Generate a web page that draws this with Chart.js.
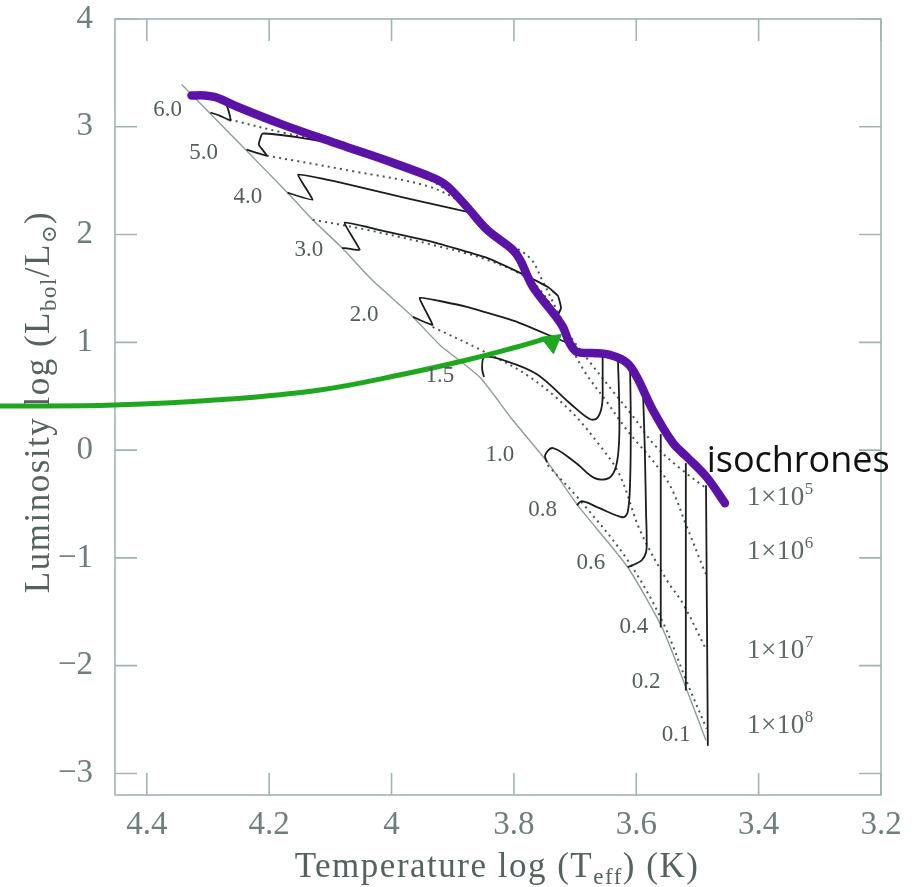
<!DOCTYPE html>
<html>
<head>
<meta charset="utf-8">
<title>Pre-main-sequence tracks</title>
<script src="https://cdn.jsdelivr.net/npm/chart.js@4.4.1/dist/chart.umd.min.js"></script>
<style>
  html, body { margin: 0; padding: 0; background: #fff; }
</style>
</head>
<body>
<canvas id="myChart" width="923" height="887"></canvas>
<script>
// axis ticks (log Teff runs backwards)
const xTicks = [4.4, 4.2, 4.0, 3.8, 3.6, 3.4, 3.2];
const yTicks = [-3, -2, -1, 0, 1, 2, 3, 4];

// zero age main sequence, [log Teff, log L]
const zams = [[4.343,3.392],[4.242,2.807],[4.170,2.388],[4.129,2.138],[4.081,1.877],[4.032,1.580],[3.965,1.236],[3.921,0.976],[3.856,0.678],[3.802,0.279],[3.745,-0.112],[3.696,-0.511],[3.614,-1.087],[3.558,-1.645],[3.517,-2.230],[3.486,-2.695]];

// evolutionary tracks, one per mass
const massNames = ['6.0', '5.0', '4.0', '3.0', '2.0', '1.5', '1.0', '0.8', '0.6', '0.4', '0.2', '0.1'];
const track60 = [[4.271,3.225],[4.266,3.141],[4.263,3.058],[4.281,3.104],[4.296,3.132]];
const track50 = [[4.081,2.835],[4.150,2.900],[4.211,2.937],[4.217,2.835],[4.204,2.732],[4.237,2.788]];
const track40 = [[3.872,2.205],[3.938,2.289],[4.014,2.388],[4.090,2.491],[4.153,2.556],[4.129,2.323],[4.170,2.388]];
const track30 = [[3.730,1.228],[3.723,1.320],[3.728,1.431],[3.745,1.515],[3.790,1.645],[3.844,1.784],[3.933,1.933],[4.014,2.035],[4.077,2.110],[4.052,1.859],[4.081,1.877]];
const track20 = [[3.712,0.994],[3.736,1.050],[3.795,1.190],[3.877,1.329],[3.954,1.413],[3.933,1.162],[3.965,1.236]];
const track15 = [[3.655,0.892],[3.655,0.651],[3.656,0.418],[3.664,0.297],[3.676,0.288],[3.709,0.437],[3.763,0.706],[3.818,0.836],[3.848,0.864],[3.852,0.762],[3.849,0.678]];
const track10 = [[3.630,0.836],[3.628,0.465],[3.628,0.093],[3.633,-0.149],[3.645,-0.260],[3.668,-0.260],[3.700,-0.112],[3.736,0.019],[3.749,-0.046],[3.746,-0.112]];
const track08 = [[3.610,0.725],[3.609,0.279],[3.610,-0.279],[3.614,-0.576],[3.622,-0.623],[3.660,-0.539],[3.689,-0.474],[3.697,-0.511]];
const track06 = [[3.589,0.539],[3.586,0],[3.584,-0.586],[3.583,-0.809],[3.584,-0.948],[3.591,-1.022],[3.599,-1.050],[3.614,-1.087]];
const track04 = [[3.560,0.149],[3.560,-1.645]];
const track02 = [[3.519,-0.121],[3.519,-2.230]];
const track01 = [[3.486,-0.325],[3.483,-2.742]];

// isochrones
const isoNames = ['5', '6', '7', '8'];
const iso5 = [[4.265,3.067],[4.178,2.946],[4.085,2.825],[4.003,2.658],[3.921,2.454],[3.864,2.193],[3.823,1.970],[3.774,1.784],[3.754,1.580],[3.730,1.301],[3.709,1.069],[3.676,0.818],[3.640,0.558],[3.607,0.325],[3.570,0.046],[3.529,-0.167],[3.486,-0.353]];
const iso5b = [[4.204,2.732],[4.068,2.593],[3.938,2.444],[3.872,2.258]];
const iso6 = [[4.129,2.138],[4.041,2.045],[3.933,1.905],[3.844,1.766],[3.779,1.599],[3.745,1.394],[3.717,1.069],[3.684,0.725],[3.648,0.446],[3.619,0.214],[3.550,-0.279],[3.517,-0.716],[3.491,-1.087],[3.485,-1.162]];
const iso7 = [[3.933,1.143],[3.844,0.901],[3.774,0.678],[3.709,0.372],[3.660,0.046],[3.627,-0.232],[3.594,-0.743],[3.550,-1.208],[3.524,-1.422],[3.485,-1.859]];
const iso8 = [[3.745,-0.139],[3.692,-0.465],[3.614,-1.022],[3.558,-1.580],[3.517,-2.156],[3.485,-2.584]];

// hand drawn overlays: the isochrone highlight and the arrow
const highlight = [[4.327,3.290],[4.305,3.290],[4.286,3.271],[4.253,3.188],[4.178,3.020],[4.085,2.835],[4.008,2.686],[3.933,2.528],[3.910,2.454],[3.877,2.258],[3.844,2.045],[3.802,1.859],[3.790,1.766],[3.769,1.515],[3.736,1.273],[3.720,1.143],[3.709,0.994],[3.697,0.911],[3.671,0.901],[3.643,0.883],[3.615,0.809],[3.599,0.678],[3.573,0.372],[3.540,0.065],[3.517,-0.065],[3.485,-0.251],[3.455,-0.493]];
const arrow = [[4.641,0.409],[4.453,0.418],[4.265,0.474],[4.117,0.558],[3.987,0.697],[3.877,0.836],[3.795,0.957],[3.749,1.032]];
const arrowHead = [[3.738,1.004]];

// where the text sits, in data units
const massLabelPos = [[4.366,3.160],[4.307,2.760],[4.235,2.351],[4.135,1.859],[4.045,1.255],[3.921,0.688],[3.823,-0.046],[3.753,-0.558],[3.674,-1.050],[3.604,-1.645],[3.584,-2.147],[3.535,-2.639]];
const isoLabelPos = [[3.419,-0.437],[3.419,-0.939],[3.419,-1.859],[3.419,-2.546]];
const noteText = 'isochrones';
const notePos = [3.485, -0.204];

const pts = arr => arr.map(p => ({x: p[0], y: p[1]}));
const fmt = v => String(+(+v).toFixed(1)).replace('-', '\u2212');

const serif = '"Liberation Serif", "DejaVu Serif", serif';
const axisGray = '#a3b3b3';

let datasets = [];
datasets.push({data: pts(arrowHead), showLine: false, pointStyle: 'triangle', pointRadius: 12, rotation: 52,
  pointBackgroundColor: '#1fa81f', pointBorderColor: '#1fa81f', pointBorderWidth: 1, clip: false});
datasets.push({data: pts(arrow), showLine: true, borderColor: '#1fa81f', borderWidth: 5, tension: 0.4, pointRadius: 0, clip: false});
datasets.push({data: pts(highlight), showLine: true, borderColor: '#5b12a6', borderWidth: 8.5, tension: 0.35, pointRadius: 0,
  borderCapStyle: 'round', borderJoinStyle: 'round'});

let tracks = [track60, track50, track40, track30, track20, track15, track10, track08, track06, track04, track02, track01];
tracks.forEach(function(t, i){
  datasets.push({data: pts(t), showLine: true, borderColor: '#1a1d1d', borderWidth: 1.8, pointRadius: 0,
    tension: i < 5 ? 0.1 : 0.35});
});
[iso5, iso5b, iso6, iso7, iso8].forEach(function(iso){
  datasets.push({data: pts(iso), showLine: true, borderColor: '#4a5454', borderWidth: 2, borderDash: [2, 4.2], pointRadius: 0, tension: 0.35});
});
datasets.push({data: pts(zams), showLine: true, borderColor: '#909c9c', borderWidth: 1.4, pointRadius: 0, tension: 0.2});

// draws text pieces one after another; each piece is [text, size, dy]
function drawPieces(ctx, x, y, pieces, align, spacing){
  ctx.letterSpacing = (spacing || 0) + 'px';
  let widths = pieces.map(function(p){ ctx.font = p[1] + 'px ' + serif; return ctx.measureText(p[0]).width; });
  let total = widths.reduce((a, b) => a + b, 0);
  let cx = align === 'center' ? x - total / 2 : x;
  ctx.textAlign = 'left';
  ctx.textBaseline = 'alphabetic';
  pieces.forEach(function(p, i){
    ctx.font = p[1] + 'px ' + serif;
    ctx.fillText(p[0], cx, y + p[2]);
    cx += widths[i];
  });
  ctx.letterSpacing = '0px';
}

const framePlugin = {
  id: 'frame',
  beforeDatasetsDraw(chart){
    const ctx = chart.ctx, a = chart.chartArea, sx = chart.scales.x, sy = chart.scales.y;
    ctx.save();
    ctx.strokeStyle = axisGray;
    ctx.lineWidth = 1.6;
    ctx.strokeRect(a.left, a.top, a.right - a.left, a.bottom - a.top);
    ctx.beginPath();
    xTicks.forEach(function(v){
      let px = sx.getPixelForValue(v);
      ctx.moveTo(px, a.bottom); ctx.lineTo(px, a.bottom - 22);
      ctx.moveTo(px, a.top); ctx.lineTo(px, a.top + 22);
    });
    yTicks.forEach(function(v){
      let py = sy.getPixelForValue(v);
      ctx.moveTo(a.left, py); ctx.lineTo(a.left + 22, py);
      ctx.moveTo(a.right, py); ctx.lineTo(a.right - 22, py);
    });
    ctx.stroke();
    // axis titles sit under the arrow
    ctx.fillStyle = '#56625f';
    drawPieces(ctx, 497, 877, [['Temperature log (T', 35, 0], ['eff', 23, 7], [') (K)', 35, 0]], 'center', 1.5);
    ctx.translate(49, 402);
    ctx.rotate(-Math.PI / 2);
    drawPieces(ctx, 0, 0, [['Luminosity log (L', 35, 0], ['bol', 23, 7], ['/L', 35, 0], ['\u2299', 21, 7], [')', 35, 0]], 'center', 1.5);
    ctx.restore();
  },
  afterDatasetsDraw(chart){
    const ctx = chart.ctx, sx = chart.scales.x, sy = chart.scales.y;
    ctx.save();
    // mass labels
    ctx.fillStyle = '#535d5d';
    ctx.font = '23px ' + serif;
    ctx.textAlign = 'center';
    ctx.textBaseline = 'middle';
    massNames.forEach(function(m, i){
      ctx.fillText(m, sx.getPixelForValue(massLabelPos[i][0]), sy.getPixelForValue(massLabelPos[i][1]));
    });
    // isochrone ages
    ctx.fillStyle = '#5f6969';
    isoNames.forEach(function(e, i){
      let px = sx.getPixelForValue(isoLabelPos[i][0]), py = sy.getPixelForValue(isoLabelPos[i][1]) + 8;
      drawPieces(ctx, px, py, [['1\u00d710', 27, 0], [e, 17, -11]], 'left', 0.5);
    });
    // note on the highlighted curve
    ctx.fillStyle = '#111';
    ctx.font = '36px "Open Sans", sans-serif';
    ctx.textAlign = 'left';
    ctx.textBaseline = 'alphabetic';
    ctx.fillText(noteText, sx.getPixelForValue(notePos[0]), sy.getPixelForValue(notePos[1]));
    ctx.restore();
  }
};

// keep the plot box fixed, tick labels may hang over the padding
function fixPadding(s){
  s.paddingTop = 0; s.paddingBottom = 0; s.paddingLeft = 0; s.paddingRight = 0;
}

let ctx = document.getElementById('myChart');
let myChart = new Chart(ctx, {
  type: 'scatter',
  data: {datasets: datasets},
  options: {
    responsive: false,
    animation: false,
    events: [],
    layout: {padding: {left: 0, right: 42, top: 19, bottom: 0}},
    elements: {line: {fill: false}},
    plugins: {legend: {display: false}, tooltip: {enabled: false}},
    scales: {
      x: {
        type: 'linear', reverse: true, min: 3.2, max: 4.452,
        afterBuildTicks: s => { s.ticks = xTicks.map(v => ({value: v})); },
        afterFit: s => { s.height = 92; fixPadding(s); },
        grid: {display: false, drawTicks: false},
        border: {display: false},
        ticks: {font: {family: serif, size: 33}, color: '#6f7d7d', padding: 11, maxRotation: 0, autoSkip: false, callback: v => fmt(v)}
      },
      y: {
        type: 'linear', min: -3.2, max: 4,
        afterBuildTicks: s => { s.ticks = yTicks.map(v => ({value: v})); },
        afterFit: s => { s.width = 115; fixPadding(s); },
        grid: {display: false, drawTicks: false},
        border: {display: false},
        ticks: {font: {family: serif, size: 33}, color: '#6f7d7d', padding: 22, autoSkip: false, callback: v => fmt(v)}
      }
    }
  },
  plugins: [framePlugin]
});
</script>
</body>
</html>
